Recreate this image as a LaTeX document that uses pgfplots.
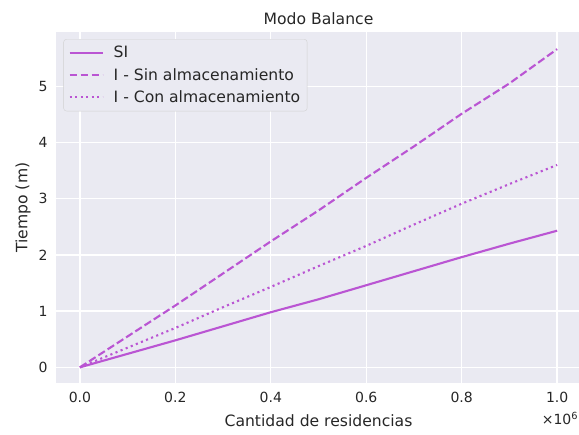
\documentclass[border=0pt]{standalone}
\usepackage{pgfplots}
\pgfplotsset{compat=1.18}
\usepackage{fontspec}
\setmainfont{DejaVu Sans}
\usetikzlibrary{calc}
\definecolor{bg}{HTML}{EAEAF2}
\definecolor{txt}{HTML}{262626}
\definecolor{orchid}{HTML}{BA55D3}

% tiempos (x en millones de residencias)
\pgfplotstableread{
x     si    sin   con
0.0   0.00  0.00  0.00
0.1   0.24  0.55  0.35
0.2   0.48  1.10  0.70
0.3   0.73  1.67  1.07
0.4   0.98  2.24  1.43
0.5   1.21  2.79  1.80
0.6   1.46  3.37  2.16
0.7   1.71  3.93  2.54
0.8   1.96  4.51  2.91
0.9   2.20  5.05  3.26
1.0   2.43  5.66  3.60
}\datos

\begin{document}
\begin{tikzpicture}
\begin{axis}[
    name=ax,
    scale only axis,
    width=524.7pt, height=351.1pt,
    xmin=-0.05, xmax=1.05,
    ymin=-0.284, ymax=5.964,
    axis background/.style={fill=bg},
    axis line style={draw=none},
    grid=major,
    grid style={white, line width=1.4pt},
    tick style={draw=none},
    xtick={0,0.2,...,1.0},
    ytick={0,1,2,3,4,5},
    xticklabel style={/pgf/number format/fixed, /pgf/number format/fixed zerofill,
        /pgf/number format/precision=1, yshift=-5pt},
    /pgf/number format/assume math mode=true,
    ticklabel style={font=\fontsize{14}{16}\selectfont, text=txt},
    yticklabel style={xshift=-5pt},
    title={Modo Balance},
    title style={font=\fontsize{15.6}{18}\selectfont, text=txt, yshift=-2pt},
    xlabel={Cantidad de residencias},
    ylabel={Tiempo (m)},
    label style={font=\fontsize{15.6}{18}\selectfont, text=txt},
    xlabel style={yshift=-5pt},
    ylabel style={yshift=1pt},
    legend cell align=left,
    legend style={font=\fontsize{15.6}{18}\selectfont, text=txt, fill=bg, draw=black!18,
        rounded corners=3pt, at={(0.014,0.98)}, anchor=north west,
        row sep=5pt, column sep=8pt, inner xsep=5pt, inner ysep=5pt},
    legend image code/.code={\draw[#1] (0pt,0pt) -- (33pt,0pt);},
    clip=false,
]
\addplot[orchid, line width=2.1pt] table[x=x, y=si] {\datos};
\addlegendentry{SI}
\addplot[orchid, line width=2.1pt, dash pattern=on 7.7pt off 3.3pt] table[x=x, y=sin] {\datos};
\addlegendentry{I - Sin almacenamiento}
\addplot[orchid, line width=2.1pt, dash pattern=on 2.1pt off 3.4pt] table[x=x, y=con] {\datos};
\addlegendentry{I - Con almacenamiento}
\node[text=txt, font=\fontsize{14}{16}\selectfont, anchor=center] at ($(rel axis cs:1,0)+(-21pt,-35pt)$) {×10\textsuperscript{6}};
\end{axis}
\pgfresetboundingbox
\path ($(ax.south west)+(-56pt,-51pt)$) rectangle ($(ax.north east)+(-2pt,32pt)$);
\end{tikzpicture}
\end{document}
